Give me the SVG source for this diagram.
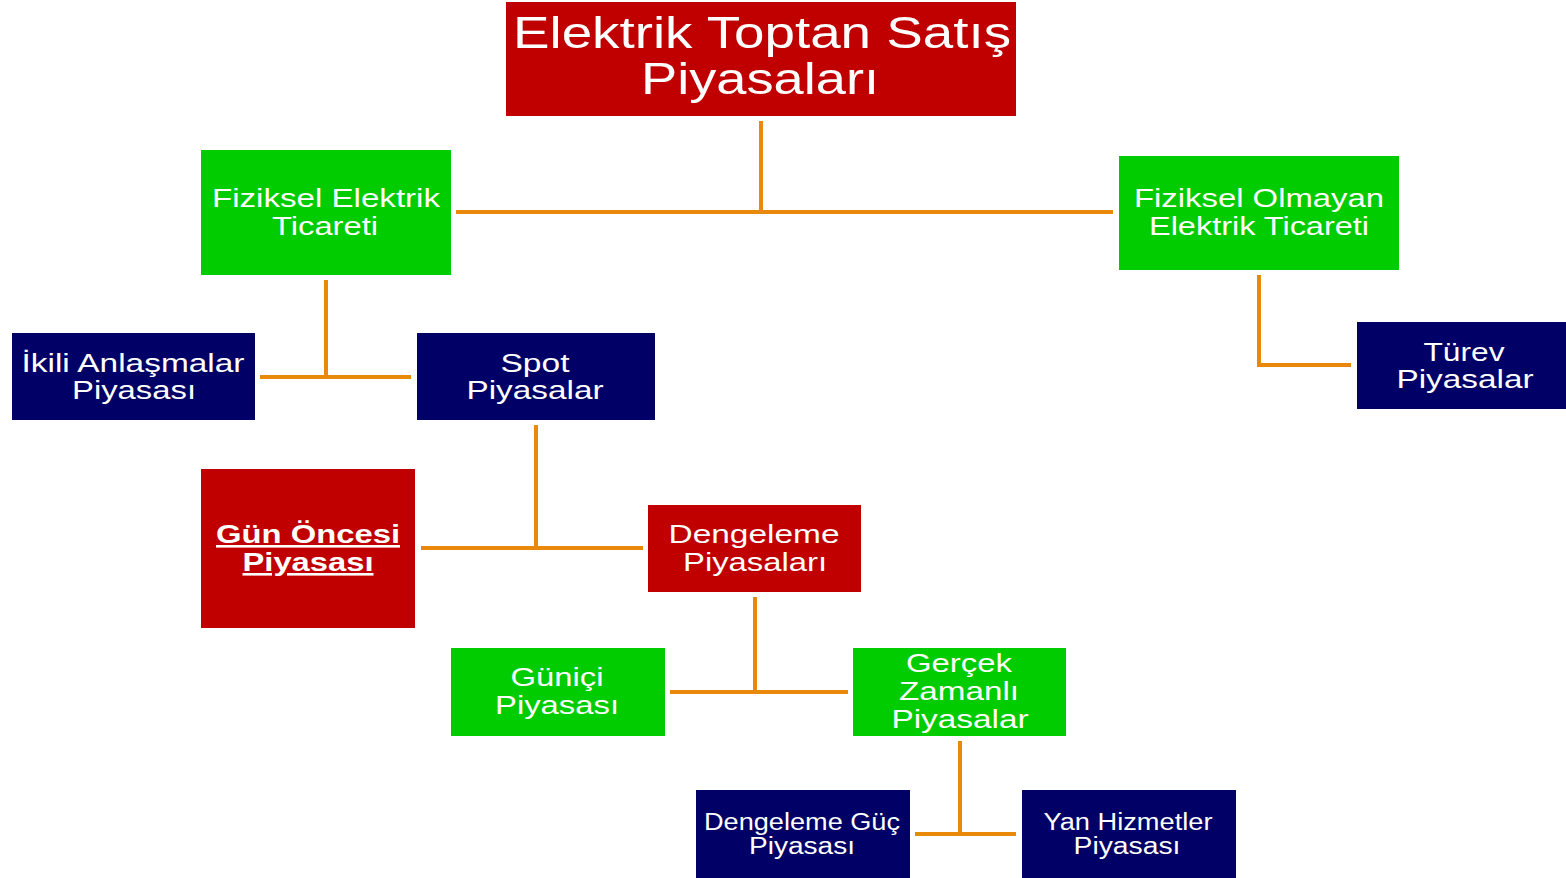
<svg xmlns="http://www.w3.org/2000/svg" width="1566" height="878" viewBox="0 0 1566 878">
<style>
.red{fill:#c00000}
.green{fill:#00cc00}
.navy{fill:#000066}
text{font-family:"Liberation Sans",Arial,sans-serif;fill:#ffffff;text-anchor:middle;font-size:26px}
.title{font-size:45px}
.small{font-size:23px}
.bold{font-weight:bold;text-decoration:underline}
.conn{stroke:#e8890c;stroke-width:4;fill:none}
</style>
<rect width="1566" height="878" fill="#ffffff"/>
<g id="connectors">
<path class="conn" d="M761 121V213M456 212H1113"/>
<path class="conn" d="M326 280V377M260 377H411"/>
<path class="conn" d="M1259 275V365H1351"/>
<path class="conn" d="M536 425V548M421 548H643"/>
<path class="conn" d="M755 597V692M670 692H848"/>
<path class="conn" d="M960 741V834M915 834H1016"/>
</g>
<g id="n-title">
<rect class="red" x="506" y="2" width="510" height="114"/>
<text class="title" x="762" y="48" textLength="498" lengthAdjust="spacingAndGlyphs">Elektrik Toptan Satış</text>
<text class="title" x="760" y="94" textLength="238" lengthAdjust="spacingAndGlyphs">Piyasaları</text>
</g>
<g id="n-fiziksel">
<rect class="green" x="201" y="150" width="250" height="125"/>
<text x="326" y="207" textLength="228" lengthAdjust="spacingAndGlyphs">Fiziksel Elektrik</text>
<text x="325" y="235" textLength="106" lengthAdjust="spacingAndGlyphs">Ticareti</text>
</g>
<g id="n-fizikselolmayan">
<rect class="green" x="1119" y="156" width="280" height="114"/>
<text x="1259" y="207" textLength="250" lengthAdjust="spacingAndGlyphs">Fiziksel Olmayan</text>
<text x="1259" y="235" textLength="220" lengthAdjust="spacingAndGlyphs">Elektrik Ticareti</text>
</g>
<g id="n-ikili">
<rect class="navy" x="12" y="333" width="243" height="87"/>
<text x="133" y="372" textLength="223" lengthAdjust="spacingAndGlyphs">İkili Anlaşmalar</text>
<text x="134" y="399" textLength="124" lengthAdjust="spacingAndGlyphs">Piyasası</text>
</g>
<g id="n-spot">
<rect class="navy" x="417" y="333" width="238" height="87"/>
<text x="535" y="372" textLength="69" lengthAdjust="spacingAndGlyphs">Spot</text>
<text x="535" y="399" textLength="137" lengthAdjust="spacingAndGlyphs">Piyasalar</text>
</g>
<g id="n-turev">
<rect class="navy" x="1357" y="322" width="209" height="87"/>
<text x="1464" y="361" textLength="81" lengthAdjust="spacingAndGlyphs">Türev</text>
<text x="1465" y="388" textLength="137" lengthAdjust="spacingAndGlyphs">Piyasalar</text>
</g>
<g id="n-gunoncesi">
<rect class="red" x="201" y="469" width="214" height="159"/>
<text class="bold" x="308" y="543" textLength="184" lengthAdjust="spacingAndGlyphs">Gün Öncesi</text>
<text class="bold" x="308" y="571" textLength="131" lengthAdjust="spacingAndGlyphs">Piyasası</text>
</g>
<g id="n-dengeleme">
<rect class="red" x="648" y="505" width="213" height="87"/>
<text x="754" y="543" textLength="171" lengthAdjust="spacingAndGlyphs">Dengeleme</text>
<text x="755" y="571" textLength="144" lengthAdjust="spacingAndGlyphs">Piyasaları</text>
</g>
<g id="n-gunici">
<rect class="green" x="451" y="648" width="214" height="88"/>
<text x="557" y="686" textLength="93" lengthAdjust="spacingAndGlyphs">Güniçi</text>
<text x="557" y="714" textLength="124" lengthAdjust="spacingAndGlyphs">Piyasası</text>
</g>
<g id="n-gercek">
<rect class="green" x="853" y="648" width="213" height="88"/>
<text x="959" y="672" textLength="106" lengthAdjust="spacingAndGlyphs">Gerçek</text>
<text x="959" y="700" textLength="120" lengthAdjust="spacingAndGlyphs">Zamanlı</text>
<text x="960" y="728" textLength="137" lengthAdjust="spacingAndGlyphs">Piyasalar</text>
</g>
<g id="n-dgp">
<rect class="navy" x="696" y="790" width="214" height="88"/>
<text class="small" x="802" y="830" textLength="196" lengthAdjust="spacingAndGlyphs">Dengeleme Güç</text>
<text class="small" x="802" y="854" textLength="106" lengthAdjust="spacingAndGlyphs">Piyasası</text>
</g>
<g id="n-yan">
<rect class="navy" x="1022" y="790" width="214" height="88"/>
<text class="small" x="1128" y="830" textLength="169" lengthAdjust="spacingAndGlyphs">Yan Hizmetler</text>
<text class="small" x="1127" y="854" textLength="107" lengthAdjust="spacingAndGlyphs">Piyasası</text>
</g>
</svg>
